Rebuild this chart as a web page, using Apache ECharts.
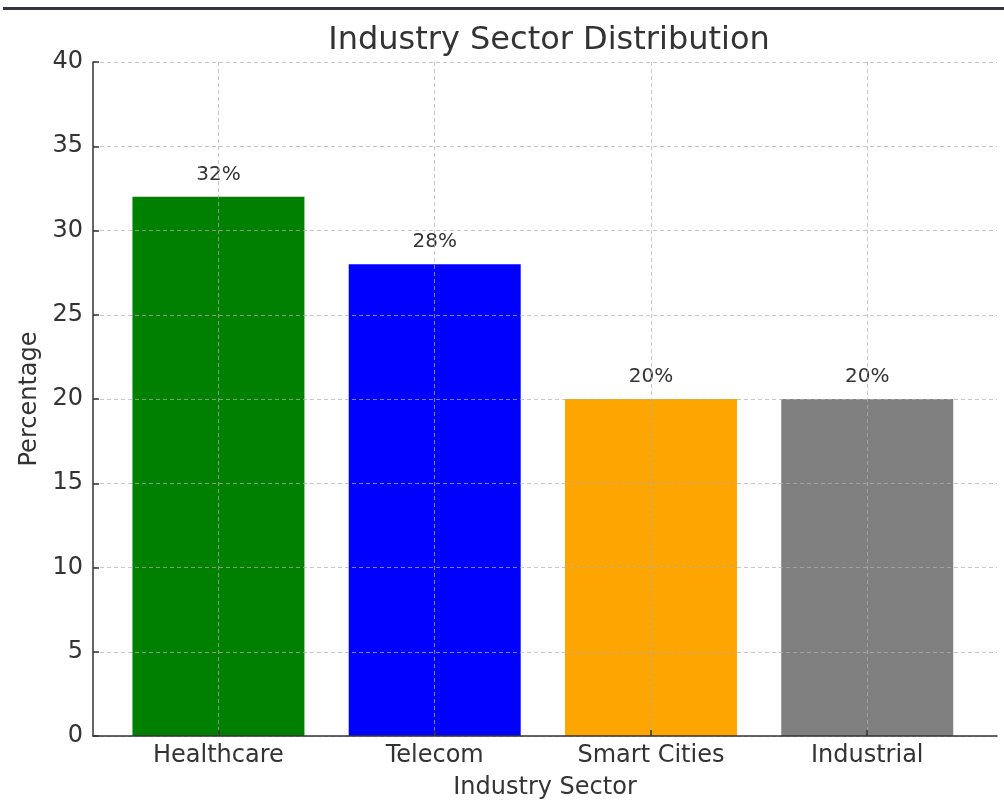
<!DOCTYPE html>
<html>
<head>
<meta charset="utf-8">
<script src="https://cdn.jsdelivr.net/npm/echarts@6/dist/echarts.min.js"></script>
<style>
html,body{margin:0;padding:0;background:#fff;}
#chart{width:1004px;height:812px;}
</style>
</head>
<body>
<div id="chart"></div>
<script>
const categories = ['Healthcare', 'Telecom', 'Smart Cities', 'Industrial'];
const values = [32, 28, 20, 20];
const colors = ['#008000', '#0000ff', '#ffa500', '#808080'];
const yTicks = [0, 5, 10, 15, 20, 25, 30, 35, 40];

const FONT = 'DejaVu Sans';
const chart = echarts.init(document.getElementById('chart'));
const positions = categories.map((c, i) => i);

chart.setOption({
  animation: false,
  backgroundColor: '#fff',
  textStyle: { fontFamily: FONT },
  title: {
    text: 'Industry Sector Distribution',
    left: 544, textAlign: 'center', top: 20,
    textStyle: { fontFamily: FONT, fontSize: 32, fontWeight: 'normal', color: '#333' }
  },
  graphic: [{
    type: 'rect', shape: { x: 3, y: 7, width: 1001, height: 3 },
    style: { fill: '#353540' }
  }],
  grid: { left: 93, right: 7, top: 62, bottom: 76, containLabel: false },
  xAxis: {
    type: 'value', min: -0.58, max: 3.6, z: 3,
    name: 'Industry Sector', nameLocation: 'middle', nameGap: 40,
    nameTextStyle: { fontFamily: FONT, fontSize: 24, color: '#333' },
    axisLine: { show: true, onZero: false, lineStyle: { color: '#333', width: 1.5 } },
    axisTick: { show: true, inside: true, length: 6, customValues: positions, lineStyle: { color: '#333', width: 1.5 } },
    axisLabel: { customValues: positions, margin: 8, fontFamily: FONT, fontSize: 24, color: '#333',
      formatter: v => categories[Math.round(v)] },
    splitLine: { show: true, lineStyle: { color: 'rgba(176,176,176,0.7)', type: [4, 3], width: 1 } }
  },
  yAxis: {
    type: 'value', min: 0, max: 40, interval: 5, z: 3,
    name: 'Percentage', nameLocation: 'middle', nameGap: 43, nameRotate: 90,
    nameTextStyle: { fontFamily: FONT, fontSize: 24, color: '#333' },
    axisLine: { show: true, onZero: false, lineStyle: { color: '#333', width: 1.5 } },
    axisTick: { show: true, inside: true, length: 6, lineStyle: { color: '#333', width: 1.5 } },
    axisLabel: { margin: 10, fontFamily: FONT, fontSize: 24, color: '#333',
      formatter: v => yTicks.includes(v) ? String(v) : '' },
    splitLine: { show: true, lineStyle: { color: 'rgba(176,176,176,0.7)', type: [4, 3], width: 1 } }
  },
  series: [{
    type: 'bar',
    barWidth: 172,
    data: values.map((v, i) => ({ value: [i, v], itemStyle: { color: colors[i] } })),
    label: {
      show: true, position: 'top', distance: 12,
      fontFamily: FONT, fontSize: 20, color: '#333',
      formatter: p => p.value[1] + '%'
    }
  }]
});
</script>
</body>
</html>
